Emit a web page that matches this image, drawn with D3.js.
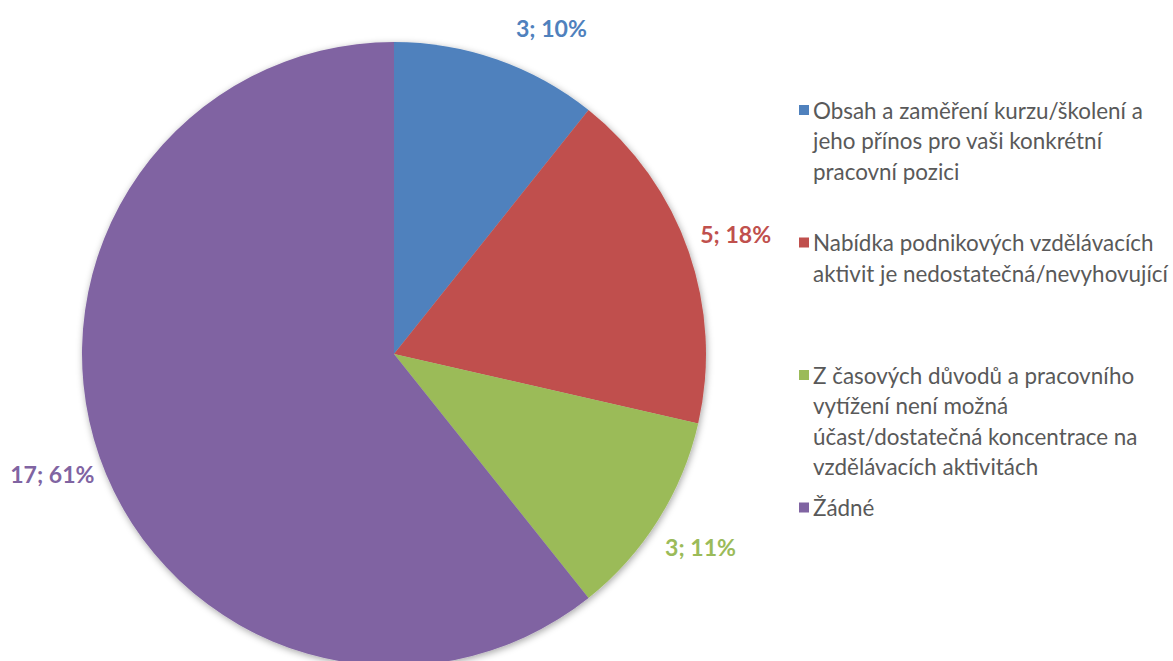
<!DOCTYPE html>
<html>
<head>
<meta charset="utf-8">
<script src="https://cdn.jsdelivr.net/npm/d3@7"></script>
<style>
  html, body { margin: 0; padding: 0; background: #fff; }
  svg { display: block; font-family: Lato, "Open Sans", sans-serif; }
</style>
</head>
<body>
<div id="chart"></div>
<script>
// Categories, counts and their printed percentages
const categories = [
    "Obsah a zaměření kurzu/školení a jeho přínos pro vaši konkrétní pracovní pozici",
    "Nabídka podnikových vzdělávacích aktivit je nedostatečná/nevyhovující",
    "Z časových důvodů a pracovního vytížení není možná účast/dostatečná koncentrace na vzdělávacích aktivitách",
    "Žádné"
];
const counts = [3, 5, 3, 17];
const percentLabels = ["10%", "18%", "11%", "61%"];
// legend lines as they wrap in the original
const legendLines = [
    ["Obsah a zaměření kurzu/školení a", "jeho přínos pro vaši konkrétní", "pracovní pozici"],
    ["Nabídka podnikových vzdělávacích", "aktivit je nedostatečná/nevyhovující"],
    ["Z časových důvodů a pracovního", "vytížení není možná", "účast/dostatečná koncentrace na", "vzdělávacích aktivitách"],
    ["Žádné"]
];
const colors = ["#4f81bd", "#c0504d", "#9bbb59", "#8064a2"];

const width = 1173, height = 661;
const cx = 394, cy = 354, radius = 312;

const svg = d3.select("#chart").append("svg")
    .attr("width", width)
    .attr("height", height);

// pick a font size so a sample string reaches the wanted width (Calibri stand-in)
function fitSize(text, weight, targetWidth) {
    const t = svg.append("text")
        .attr("font-size", "20px")
        .attr("font-weight", weight)
        .text(text);
    const w = t.node().getComputedTextLength();
    t.remove();
    return 20 * targetWidth / w;
}
const labelSize = fitSize("3; 10%", "bold", 71);
const legendSize = fitSize("aktivit je nedostatečná/nevyhovující", "normal", 355);

// soft shadow like the office chart
const defs = svg.append("defs");
const shadow = defs.append("filter").attr("id", "shadow")
    .attr("x", "-10%").attr("y", "-10%").attr("width", "120%").attr("height", "120%");
shadow.append("feDropShadow")
    .attr("dx", 1).attr("dy", 2)
    .attr("stdDeviation", 3.5)
    .attr("flood-color", "#000")
    .attr("flood-opacity", 0.35);

const data = categories.map((c, i) => ({
    name: c, value: counts[i], pct: percentLabels[i], color: colors[i], lines: legendLines[i]
}));

const pie = d3.pie().value(d => d.value).sort(null);
const arc = d3.arc().innerRadius(0).outerRadius(radius);
const arcs = pie(data);

const g = svg.append("g").attr("transform", `translate(${cx},${cy})`);

g.append("g")
    .attr("filter", "url(#shadow)")
    .selectAll("path")
    .data(arcs)
    .enter()
    .append("path")
    .attr("d", arc)
    .attr("fill", d => d.data.color);

// data labels: outside end, box centre on a circle, kept inside the top margin
const labelR = 362;
g.selectAll(".dlabel")
    .data(arcs)
    .enter()
    .append("text")
    .attr("class", "dlabel")
    .attr("text-anchor", "middle")
    .attr("dominant-baseline", "central")
    .attr("fill", d => d.data.color)
    .attr("font-size", labelSize + "px")
    .attr("font-weight", "bold")
    .text(d => `${d.data.value}; ${d.data.pct}`)
    .each(function(d) {
        const a = (d.startAngle + d.endAngle) / 2;
        let x = labelR * Math.sin(a);
        let y = -labelR * Math.cos(a);
        const minY = 28 - cy;
        if (y < minY) {
            y = minY;
            x = Math.sign(Math.sin(a)) * Math.sqrt(labelR * labelR - y * y);
        }
        d3.select(this).attr("x", x).attr("y", y);
    });

// legend
const legendX = 799, legendTop = 110, legendStep = 132.5, lineH = 30.5;
const legend = svg.append("g").attr("class", "legend");

const items = legend.selectAll("g")
    .data(data)
    .enter()
    .append("g")
    .attr("transform", (d, i) => `translate(${legendX},${legendTop + i * legendStep})`);

items.append("rect")
    .attr("x", 0)
    .attr("y", -5)
    .attr("width", 10)
    .attr("height", 10)
    .attr("fill", d => d.color);

items.append("text")
    .attr("fill", "#595959")
    .attr("font-size", legendSize + "px")
    .selectAll("tspan")
    .data(d => d.lines)
    .enter()
    .append("tspan")
    .attr("x", 14)
    .attr("y", (d, i) => i * lineH)
    .attr("dominant-baseline", "central")
    .text(d => d);
</script>
</body>
</html>
